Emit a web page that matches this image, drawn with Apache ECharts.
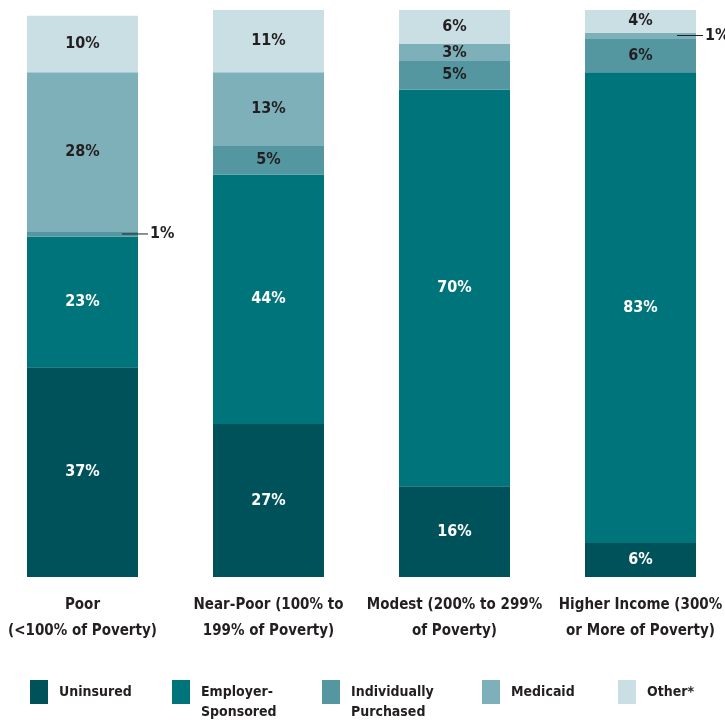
<!DOCTYPE html>
<html>
<head>
<meta charset="utf-8">
<script src="https://cdn.jsdelivr.net/npm/echarts@6/dist/echarts.min.js"></script>
<style>
  html, body { margin: 0; padding: 0; background: #fff; }
  #chart { width: 725px; height: 728px; }
</style>
</head>
<body>
<div id="chart"></div>
<script>
  var categories = ['Poor\n(<100% of Poverty)', 'Near-Poor (100% to\n199% of Poverty)', 'Modest (200% to 299%\nof Poverty)', 'Higher Income (300%\nor More of Poverty)'];
  var uninsured = [37, 27, 16, 6];
  var employer = [23, 44, 70, 83];
  var individual = [1, 5, 5, 6];
  var medicaid = [28, 13, 3, 1];
  var other = [10, 11, 6, 4];

  var FONT = "'DejaVu Sans Condensed', 'Liberation Sans Narrow', sans-serif";
  var DARK = '#231f20';

  var seriesDefs = [
    { name: 'Uninsured', data: uninsured, color: '#00525a', text: '#fff', legendLeft: 30, legendName: 'Uninsured' },
    { name: 'Employer-Sponsored', data: employer, color: '#00747b', text: '#fff', legendLeft: 172, legendName: 'Employer-\nSponsored' },
    { name: 'Individually Purchased', data: individual, color: '#5597a1', text: DARK, legendLeft: 322, legendName: 'Individually\nPurchased' },
    { name: 'Medicaid', data: medicaid, color: '#7eb0b9', text: DARK, legendLeft: 482, legendName: 'Medicaid' },
    { name: 'Other*', data: other, color: '#cadfe3', text: DARK, legendLeft: 618, legendName: 'Other*' }
  ];

  // thin segments get their label outside the bar, with a short leader line
  var outside = { 'Individually Purchased': [[0, 95]], 'Medicaid': [[3, 92]] };

  var myChart = echarts.init(document.getElementById('chart'));

  var series = seriesDefs.map(function (s) {
    var outs = outside[s.name] || [];
    return {
      name: s.name,
      type: 'bar',
      stack: 'total',
      barWidth: 111,
      itemStyle: { color: s.color },
      label: {
        show: true,
        formatter: '{c}%',
        color: s.text,
        fontFamily: FONT,
        fontWeight: 'bold',
        fontSize: 16
      },
      data: s.data.map(function (v, i) {
        var hit = outs.filter(function (o) { return o[0] === i; })[0];
        if (hit) {
          return {
            value: v,
            label: {
              position: [hit[1], '50%'],
              align: 'left',
              verticalAlign: 'middle',
              formatter: '{l|}{t|{c}%}',
              rich: {
                l: { width: 26, height: 1, backgroundColor: DARK },
                t: { color: DARK, fontFamily: FONT, fontWeight: 'bold', fontSize: 16, padding: [0, 0, 0, 2] }
              }
            }
          };
        }
        return v;
      })
    };
  });

  // two-line legend names get a leading blank line so the first line sits level with the swatch
  var legends = seriesDefs.map(function (s) {
    var twoLine = s.legendName.indexOf('\n') >= 0;
    return {
      data: [s.name],
      left: s.legendLeft,
      top: twoLine ? 662 : 680,
      padding: 0,
      icon: 'rect',
      itemWidth: 18,
      itemHeight: 24,
      itemGap: 0,
      selectedMode: false,
      formatter: function () { return twoLine ? '\n' + s.legendName : s.legendName; },
      textStyle: {
        color: DARK,
        fontFamily: FONT,
        fontWeight: 'bold',
        fontSize: 14,
        lineHeight: 20,
        padding: [0, 0, 0, 6]
      }
    };
  });

  var option = {
    animation: false,
    grid: { left: -10.5, right: -8.5, top: 10, height: 567, outerBoundsMode: 'none' },
    legend: legends,
    xAxis: {
      type: 'category',
      data: categories,
      axisLine: { show: false },
      axisTick: { show: false },
      axisLabel: {
        interval: 0,
        margin: 15,
        color: DARK,
        fontFamily: FONT,
        fontWeight: 'bold',
        fontSize: 15,
        lineHeight: 26
      }
    },
    yAxis: {
      type: 'value',
      min: 0,
      max: 100,
      show: false
    },
    series: series
  };

  myChart.setOption(option);
</script>
</body>
</html>
